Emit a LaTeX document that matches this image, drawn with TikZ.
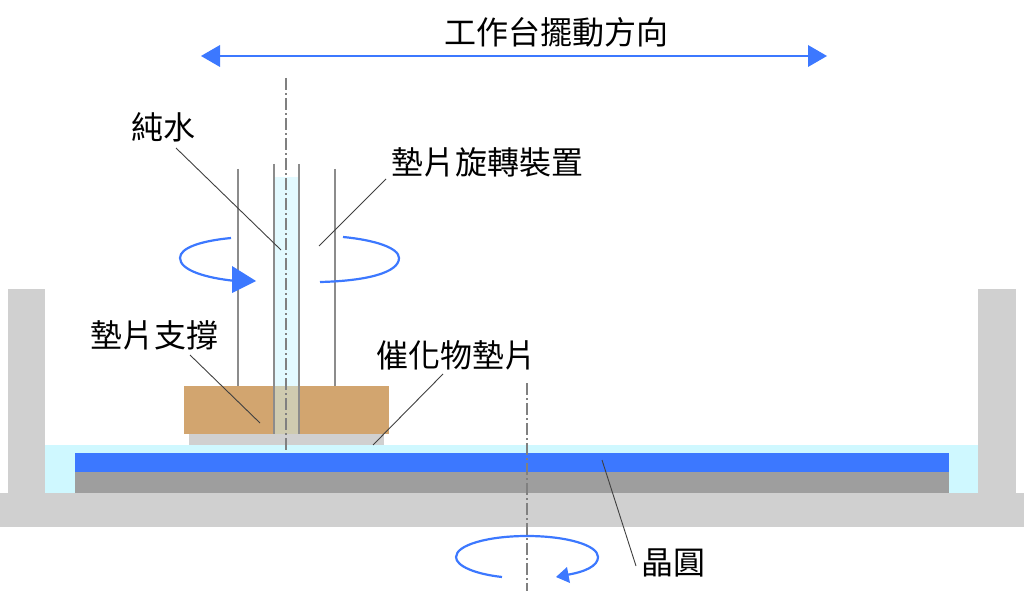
\documentclass[tikz,border=0pt]{standalone}
\usepackage{fontspec}
\newfontfamily\cjk{Noto Sans CJK TC}
\tikzset{
  x=1pt,y=-1pt,
  lab/.style={font=\cjk\fontsize{32}{35}\selectfont,text=black,inner sep=0pt},
  leader/.style={draw=black!75,line width=0.9pt},
  tube/.style={draw=black!45,line width=1.6pt},
  axis/.style={draw=black!50,line width=1.1pt,dash pattern=on 12pt off 3pt on 2pt off 3pt},
  rot/.style={draw=bluec,line width=2.2pt},
  head/.style={fill=bluec,draw=none},
}
\definecolor{bluec}{HTML}{3C78FF}
\definecolor{greyc}{HTML}{D0D0D0}
\definecolor{darkc}{HTML}{9E9E9E}
\definecolor{waterc}{HTML}{CFF8FF}
\definecolor{tubew}{HTML}{E3FAFF}
\definecolor{woodc}{HTML}{D2A56F}
\definecolor{mixc}{HTML}{CFCBB0}
\begin{document}
\begin{tikzpicture}
\useasboundingbox (0,0) rectangle (1024,593);
% bath
\fill[greyc] (8,289) rectangle (45,493);
\fill[greyc] (978,289) rectangle (1016,493);
\fill[greyc] (0,493) rectangle (1024,527);
\fill[waterc] (45,445) rectangle (978,493);
\fill[darkc] (75,472) rectangle (949,493);
\fill[bluec] (75,453) rectangle (949,472);
% pad and support
\fill[greyc] (189,434) rectangle (384,445);
\fill[tubew] (274,177) rectangle (299,386);
\fill[woodc] (184,386) rectangle (389,434);
\fill[mixc] (274,386) rectangle (299,434);
% spindle walls
\draw[tube] (238,169) -- (238,386);
\draw[tube] (335,169) -- (335,386);
\draw[tube] (274,164) -- (274,434);
\draw[tube] (299,164) -- (299,434);
% axes
\coordinate (a1) at (286,78); \coordinate (a2) at (286,453);
\coordinate (b1) at (527,383); \coordinate (b2) at (527,591);
\draw[axis] (a1) -- (a2);
\draw[axis] (b1) -- (b2);
% swing arrow
\coordinate (s1) at (218,56); \coordinate (s2) at (810,56);
\draw[rot] (s1) -- (s2);
\fill[head] (201,56) -- (220,45) -- (220,67) -- cycle;
\fill[head] (827,56) -- (808,45) -- (808,67) -- cycle;
% pad rotation
\draw[rot] (231,238) .. controls (200,241) and (180,248) .. (180,258)
  .. controls (180,270) and (205,278) .. (236,281);
\draw[rot] (343,237) .. controls (375,240) and (399,248) .. (399,258)
  .. controls (399,273) and (365,281) .. (320,282);
\fill[head] (256,281) -- (232,266) -- (232,293) -- cycle;
% wafer rotation
\draw[rot] (502,577) .. controls (475,574) and (456,566) .. (456,557)
  .. controls (456,545) and (488,536) .. (527,536)
  .. controls (566,536) and (598,545) .. (598,557)
  .. controls (598,566) and (585,572) .. (566,575);
\fill[head] (556,577) -- (567,567) -- (570,583) -- cycle;
% labels
\node[lab] (title) at (556,32) {工作台擺動方向};
\node[lab] (water) at (163,127) {純水};
\node[lab] (rotor) at (487,162) {墊片旋轉裝置};
\node[lab] (holder) at (154,335) {墊片支撐};
\node[lab] (pad) at (456,355) {催化物墊片};
\node[lab] (wafer) at (673,563) {晶圓};
% leaders
\coordinate (l1) at (281,250); \coordinate (l2) at (319,246);
\coordinate (l3) at (260,423); \coordinate (l4) at (373,445);
\coordinate (l5) at (602,460);
\coordinate (w1) at (176,148); \coordinate (r1) at (386,179);
\coordinate (h1) at (190,355); \coordinate (p1) at (443,374);
\coordinate (f1) at (636,566);
\draw[leader] (w1) -- (l1);
\draw[leader] (r1) -- (l2);
\draw[leader] (h1) -- (l3);
\draw[leader] (p1) -- (l4);
\draw[leader] (f1) -- (l5);
\end{tikzpicture}
\end{document}
